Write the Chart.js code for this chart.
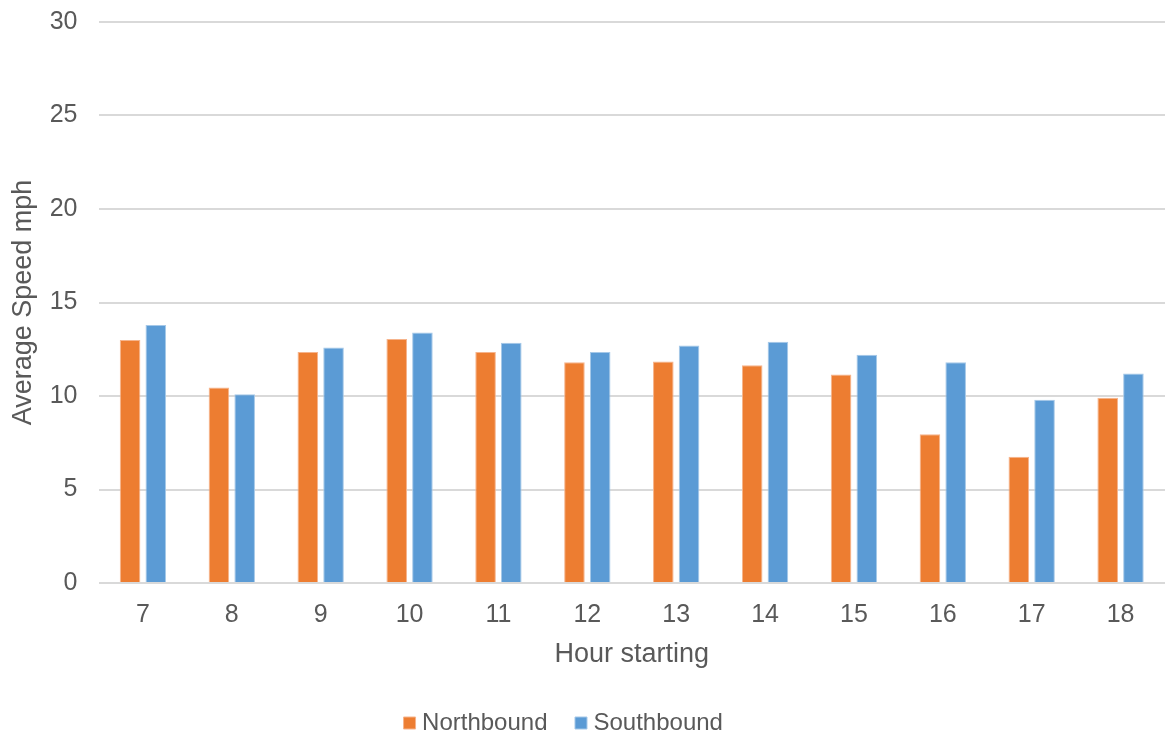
<!DOCTYPE html>
<html>
<head>
<meta charset="utf-8">
<title>Average Speed by Hour</title>
<script src="https://cdn.jsdelivr.net/npm/chart.js@4/dist/chart.umd.min.js"></script>
<style>
  html, body { margin: 0; padding: 0; background: #ffffff; overflow: hidden; }
  canvas { display: block; }
</style>
</head>
<body>
<canvas id="speedChart" width="1165" height="738"></canvas>
<script>
// Hours of the day (start of each hour)
const hours = ['7', '8', '9', '10', '11', '12', '13', '14', '15', '16', '17', '18'];

// Average speed (mph) per direction
const northbound = [13.0, 10.45, 12.35, 13.05, 12.35, 11.8, 11.85, 11.65, 11.15, 7.95, 6.75, 9.9];
const southbound = [13.8, 10.1, 12.6, 13.4, 12.85, 12.35, 12.7, 12.9, 12.2, 11.8, 9.8, 11.2];

// Value axis range
const yMin = 0;
const yMax = 30;
const yStep = 5;

const textColor = '#595959';
const gridColor = '#d9d9d9';
const fontFamily = "'Liberation Sans', Arial, Helvetica, sans-serif";

new Chart(document.getElementById('speedChart'), {
  type: 'bar',
  data: {
    labels: hours,
    datasets: [
      {
        label: 'Northbound',
        data: northbound,
        backgroundColor: '#ED7D31',
        borderColor: '#F6B48C',
        borderWidth: 1,
        categoryPercentage: 0.579,
        barPercentage: 0.8
      },
      {
        label: 'Southbound',
        data: southbound,
        backgroundColor: '#5B9BD5',
        borderColor: '#A5C8E8',
        borderWidth: 1,
        categoryPercentage: 0.579,
        barPercentage: 0.8
      }
    ]
  },
  options: {
    responsive: false,
    animation: false,
    devicePixelRatio: 1,
    layout: {
      padding: { top: 22, left: -44, right: -11, bottom: -7 }
    },
    plugins: {
      tooltip: { enabled: false },
      legend: {
        position: 'bottom',
        labels: {
          color: textColor,
          font: { family: fontFamily, size: 24 },
          usePointStyle: true,
          pointStyle: 'rect',
          boxWidth: 1,
          boxHeight: 12,
          padding: 33
        }
      }
    },
    scales: {
      x: {
        grid: { display: false, drawTicks: false },
        border: { display: false },
        ticks: {
          color: textColor,
          font: { family: fontFamily, size: 25 },
          padding: 17,
          maxRotation: 0
        },
        title: {
          display: true,
          text: 'Hour starting',
          color: textColor,
          font: { family: fontFamily, size: 27 },
          padding: { top: 0, bottom: 7 }
        },
        afterFit(scale) { scale.height = 95; }
      },
      y: {
        min: yMin,
        max: yMax,
        grid: {
          color: gridColor,
          lineWidth: 2,
          drawTicks: true,
          tickLength: 21,
          tickColor: 'rgba(0,0,0,0)'
        },
        border: { display: false },
        ticks: {
          stepSize: yStep,
          color: textColor,
          font: { family: fontFamily, size: 25 },
          padding: 0
        },
        title: {
          display: true,
          text: 'Average Speed mph',
          color: textColor,
          font: { family: fontFamily, size: 27 },
          padding: { top: 51, bottom: 0 }
        },
        afterFit(scale) { scale.width = 142.5; }
      }
    }
  }
});
</script>
</body>
</html>
